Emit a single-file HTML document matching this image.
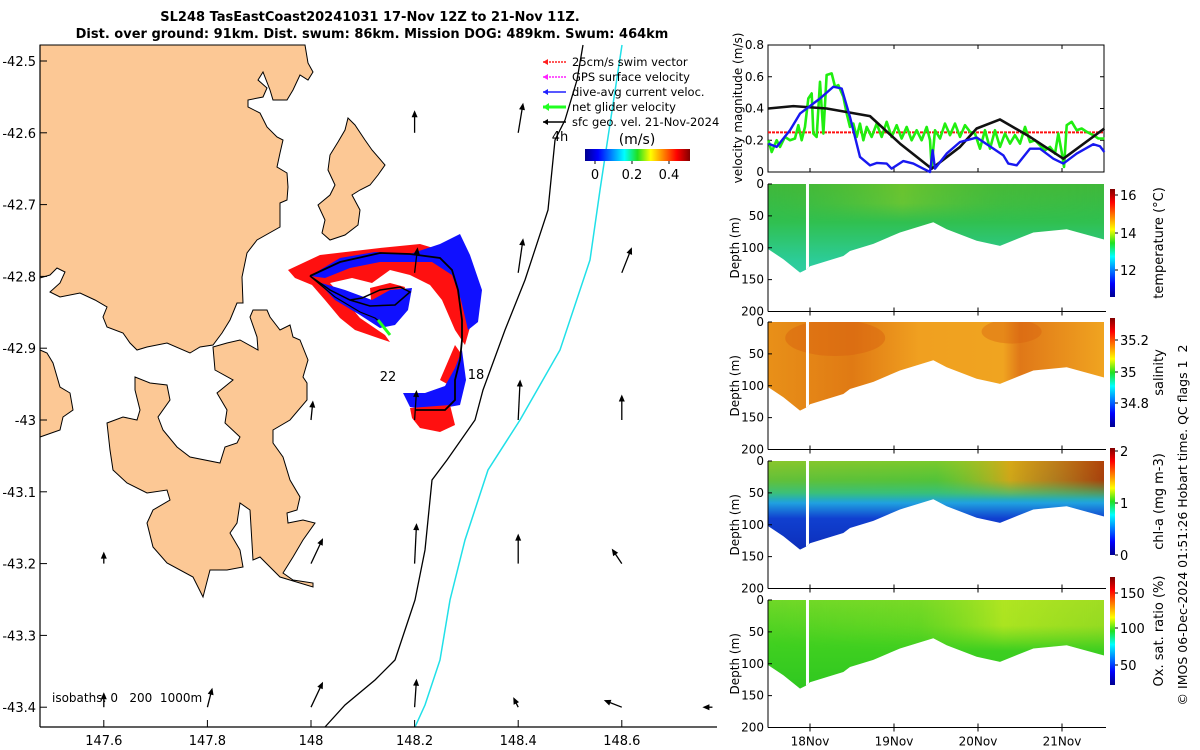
<!DOCTYPE html>
<html><head><meta charset="utf-8"><style>
html,body{margin:0;padding:0;background:#fff;}
svg{display:block;font-family:"DejaVu Sans","Liberation Sans",sans-serif;}
</style></head><body>
<svg id="fig" width="1200" height="750" viewBox="0 0 1200 750" xmlns="http://www.w3.org/2000/svg">
<defs>
<linearGradient id="jetH" x1="0" y1="0" x2="1" y2="0">
<stop offset="0" stop-color="#00008f"/><stop offset="0.125" stop-color="#0000ff"/><stop offset="0.375" stop-color="#00ffff"/><stop offset="0.5" stop-color="#20e020"/><stop offset="0.625" stop-color="#ffff00"/><stop offset="0.875" stop-color="#ff0000"/><stop offset="1" stop-color="#800000"/></linearGradient>
<linearGradient id="jetV" x1="0" y1="1" x2="0" y2="0">
<stop offset="0" stop-color="#00008f"/><stop offset="0.125" stop-color="#0000ff"/><stop offset="0.375" stop-color="#00ffff"/><stop offset="0.5" stop-color="#20e020"/><stop offset="0.625" stop-color="#ffff00"/><stop offset="0.875" stop-color="#ff0000"/><stop offset="1" stop-color="#800000"/></linearGradient>
<linearGradient id="gTemp" x1="0" y1="0" x2="0" y2="1"><stop offset="0" stop-color="#40b83a"/><stop offset="0.3" stop-color="#30c050"/><stop offset="0.6" stop-color="#2ccc98"/><stop offset="1" stop-color="#38d4c4"/></linearGradient>
<linearGradient id="gTempH" x1="0" y1="0" x2="1" y2="0"><stop offset="0" stop-color="#50c030" stop-opacity="0"/><stop offset="0.4" stop-color="#a0d020" stop-opacity="0.45"/><stop offset="0.7" stop-color="#60c030" stop-opacity="0.2"/><stop offset="1" stop-color="#60c030" stop-opacity="0"/></linearGradient>
<linearGradient id="gSal" x1="0" y1="0" x2="1" y2="0"><stop offset="0" stop-color="#e89018"/><stop offset="0.25" stop-color="#e07a14"/><stop offset="0.45" stop-color="#f0a020"/><stop offset="0.7" stop-color="#f0a420"/><stop offset="0.75" stop-color="#e07818"/><stop offset="1" stop-color="#f0a420"/></linearGradient>
<linearGradient id="gChl" x1="0" y1="0" x2="0" y2="1"><stop offset="0" stop-color="#70c830"/><stop offset="0.15" stop-color="#40c040"/><stop offset="0.25" stop-color="#30c080"/><stop offset="0.33" stop-color="#20a0e0"/><stop offset="0.45" stop-color="#1040d0"/><stop offset="1" stop-color="#0818a0"/></linearGradient>
<linearGradient id="gChlH" x1="0" y1="0" x2="1" y2="0"><stop offset="0" stop-color="#f0c020" stop-opacity="0.2"/><stop offset="0.5" stop-color="#a0d020" stop-opacity="0.2"/><stop offset="0.72" stop-color="#f0a010" stop-opacity="0.8"/><stop offset="0.85" stop-color="#e06010" stop-opacity="0.7"/><stop offset="1" stop-color="#c02000" stop-opacity="0.8"/></linearGradient>
<linearGradient id="gOx" x1="0" y1="0" x2="0" y2="1"><stop offset="0" stop-color="#70d828"/><stop offset="0.35" stop-color="#40d020"/><stop offset="1" stop-color="#20c020"/></linearGradient>
<linearGradient id="gOxH" x1="0" y1="0" x2="1" y2="0"><stop offset="0" stop-color="#a0e020" stop-opacity="0"/><stop offset="0.45" stop-color="#a0e020" stop-opacity="0.2"/><stop offset="0.7" stop-color="#c0e820" stop-opacity="0.8"/><stop offset="1" stop-color="#c0e020" stop-opacity="0.6"/></linearGradient>
<linearGradient id="fadeV" x1="0" y1="0" x2="0" y2="1"><stop offset="0" stop-color="#fff"/><stop offset="0.5" stop-color="#fff"/><stop offset="1" stop-color="#000"/></linearGradient>
</defs>

<text x="370" y="21" text-anchor="middle" font-size="13" font-weight="bold">SL248 TasEastCoast20241031 17-Nov 12Z to 21-Nov 11Z.</text>
<text x="372" y="38" text-anchor="middle" font-size="13" font-weight="bold">Dist. over ground: 91km. Dist. swum: 86km. Mission DOG: 489km. Swum: 464km</text>

<g id="map">
<path fill="#fcc895" stroke="#000" stroke-width="1" d="M40,45 L305,45 308,63 313,72 308,80 300,75 293,90 287,100 273,100 270,90 263,72 258,80 267,88 263,97 248,100 248,107 260,113 267,127 277,137 283,140 280,153 277,167 287,173 288,187 287,200 280,203 280,227 257,240 247,253 242,277 243,303 237,303 230,320 222,333 213,345 200,347 190,353 167,343 147,347 137,350 130,343 123,333 107,327 103,317 107,307 95,300 80,293 60,297 50,292 60,283 65,272 57,268 50,275 40,278 Z"/>
<path fill="#fcc895" stroke="#000" d="M40,350 47,353 53,363 60,387 70,393 73,410 63,417 60,430 40,437 Z"/>
<path fill="#fcc895" stroke="#000" d="M135,377 150,383 167,385 170,400 158,417 163,430 177,447 190,457 220,463 225,447 237,443 240,437 225,423 227,410 217,393 233,380 215,370 213,347 227,343 240,340 258,350 257,337 250,317 253,310 267,310 270,317 280,330 290,325 293,337 300,340 308,360 303,377 307,383 307,400 290,420 273,430 273,443 283,457 290,480 300,497 297,510 287,513 288,523 303,520 315,523 303,540 293,557 283,573 293,580 313,583 313,587 280,577 260,557 253,560 250,510 240,503 237,523 230,533 240,550 243,567 227,570 210,570 203,597 193,577 167,563 153,547 147,523 153,510 170,500 167,490 147,493 127,483 113,470 110,450 107,423 123,417 137,420 140,410 135,390 Z"/>
<path fill="#fcc895" stroke="#000" d="M348,118 355,125 365,140 372,150 385,165 378,175 370,185 360,190 352,195 360,210 358,225 345,235 330,240 322,233 325,220 318,205 330,195 335,185 328,170 330,155 338,142 345,130 Z"/>

<polyline fill="none" stroke="#000" stroke-width="1.3" points="583,45 577,80 565,120 555,140 548,210 525,280 505,330 483,390 475,420 447,460 432,480 425,550 415,600 405,630 395,660 375,680 345,705 325,727"/>
<polyline fill="none" stroke="#20e0e8" stroke-width="1.5" points="622,45 600,190 590,260 560,350 520,420 488,470 465,540 450,600 440,660 425,705 415,727"/>

<g>
<path fill="#ff1010" d="M288,270 320,255 380,248 420,244 440,250 455,262 467,290 472,320 465,345 455,330 442,300 430,285 410,275 390,270 372,283 352,278 330,283 345,300 360,318 385,335 390,342 378,338 355,330 340,318 325,300 312,285 295,278 Z"/>
<path fill="#ff1010" d="M370,288 390,283 405,287 400,305 385,315 372,312 Z"/>
<path fill="#1010ff" d="M310,276 340,258 375,252 410,254 440,244 460,234 470,255 482,290 478,322 468,330 461,300 452,275 432,262 410,262 380,262 350,268 325,278 Z"/>
<path fill="#1010ff" d="M318,282 345,290 372,300 390,290 412,288 408,310 395,325 380,328 360,315 335,300 Z"/>
<path fill="#ff1010" d="M440,380 455,345 462,355 458,390 Z"/>
<path fill="#1010ff" d="M403,393 425,393 445,386 455,368 462,350 466,380 460,405 432,410 410,407 Z"/>
<path fill="#ff1010" d="M410,408 450,405 455,425 440,432 420,428 412,418 Z"/>
<polyline fill="none" stroke="#000" stroke-width="1.8" points="310,276 340,262 380,253 410,254 440,258 452,270 458,290 462,320 462,340 460,360 455,380 455,400 445,410 415,410"/>
<polyline fill="none" stroke="#000" stroke-width="1.5" points="310,276 330,290 350,300 370,306 395,305 410,292 400,287 380,290 362,298 350,300"/>
<polyline fill="none" stroke="#000" stroke-width="1.2" points="310,276 335,297 360,312 375,318 380,322"/>
<line x1="378" y1="320" x2="390" y2="335" stroke="#20ff20" stroke-width="3"/>
</g>
<g id="arrows"></g>
<text x="388" y="381" text-anchor="middle" font-size="13">22</text>
<text x="476" y="379" text-anchor="middle" font-size="13">18</text>
<text x="560" y="141" text-anchor="middle" font-size="13">4h</text>
<text x="52" y="702" font-size="12">isobaths: 0&#160;&#160;&#160;200&#160;&#160;1000m</text>

<g font-size="11.5">
<line x1="543" y1="62" x2="566" y2="62" stroke="#ff2020" stroke-dasharray="2,1" stroke-width="1.5"/><path d="M543,62 l5,-3 v6z" fill="#ff2020"/><text x="572" y="66">25cm/s swim vector</text>
<line x1="543" y1="77" x2="566" y2="77" stroke="#ff20ff" stroke-dasharray="2,1" stroke-width="1.5"/><path d="M543,77 l5,-3 v6z" fill="#ff20ff"/><text x="572" y="81">GPS surface velocity</text>
<line x1="543" y1="92" x2="566" y2="92" stroke="#2020ff" stroke-width="1.5"/><path d="M543,92 l5,-3 v6z" fill="#2020ff"/><text x="572" y="96">dive-avg current veloc.</text>
<line x1="543" y1="107" x2="566" y2="107" stroke="#20ff20" stroke-width="3"/><path d="M543,107 l6,-4 v8z" fill="#20ff20"/><text x="572" y="111">net glider velocity</text>
<line x1="543" y1="122" x2="566" y2="122" stroke="#000" stroke-width="1.5"/><path d="M543,122 l5,-3 v6z" fill="#000"/><text x="572" y="126">sfc geo. vel. 21-Nov-2024</text>
</g>
<text x="637" y="144" text-anchor="middle" font-size="14">(m/s)</text>
<rect x="585" y="149" width="105" height="12" fill="url(#jetH)"/>
<g font-size="13" text-anchor="middle">
<line x1="595" y1="161" x2="595" y2="164" stroke="#000"/><text x="595" y="179">0</text>
<line x1="632" y1="161" x2="632" y2="164" stroke="#000"/><text x="632" y="179">0.2</text>
<line x1="669" y1="161" x2="669" y2="164" stroke="#000"/><text x="669" y="179">0.4</text>
</g>
<g id="mapaxes"></g>
</g>

<g id="right"></g>

<text transform="translate(1187,525) rotate(-90)" text-anchor="middle" font-size="12.5">© IMOS 06-Dec-2024 01:51:26 Hobart time. QC flags 1&#160;&#160;2</text>
</svg>
<script>
// ---- map arrow data (surface geostrophic velocity) ----
const arrowLon=[148.2,148.4,148.2,148.4,148.6,148.0,148.2,148.4,148.6,147.6,148.0,148.2,148.4,148.6,147.6,147.8,148.0,148.2,148.4,148.6,148.775];
const arrowLat=[-42.6,-42.6,-42.795,-42.795,-42.795,-43.0,-43.0,-43.0,-43.0,-43.2,-43.2,-43.2,-43.2,-43.2,-43.4,-43.4,-43.4,-43.4,-43.4,-43.4,-43.4];
const arrowU=[0,0.033,0.02,0.033,0.067,0.013,0.013,0.013,0,0,0.08,0.013,0,-0.067,0,0.033,0.08,0.013,-0.033,-0.12,-0.067];
const arrowV=[0.15,0.2,0.17,0.23,0.17,0.13,0.2,0.27,0.17,0.08,0.17,0.27,0.2,0.1,0.1,0.13,0.17,0.19,0.067,0.047,0];
const lonTicks=[147.6,147.8,148,148.2,148.4,148.6];
const latTicks=[-42.5,-42.6,-42.7,-42.8,-42.9,-43,-43.1,-43.2,-43.3,-43.4];
// ---- velocity time series (days since 18-Nov 00:00) ----
const blueT=[-0.496,-0.397,-0.238,-0.119,0.119,0.278,0.377,0.476,0.595,0.714,0.794,0.913,0.972,1.111,1.23,1.349,1.429,1.46,1.488,1.627,1.786,1.984,2.183,2.302,2.361,2.46,2.619,2.738,2.897,3.016,3.175,3.373,3.452,3.504];
const blueV=[0.179,0.158,0.263,0.368,0.463,0.537,0.526,0.347,0.095,0.042,0.057,0.053,0.021,0.069,0.053,0.021,0.0,0.137,0.021,0.116,0.189,0.217,0.147,0.105,0.053,0.042,0.147,0.147,0.084,0.053,0.116,0.175,0.162,0.126];
const blackT=[-0.496,-0.198,0.198,0.714,1.071,1.448,1.786,1.984,2.262,2.619,3.016,3.504];
const blackV=[0.40,0.415,0.40,0.352,0.179,0.021,0.158,0.274,0.331,0.221,0.084,0.274];
const greenT=[-0.496,-0.456,-0.397,-0.357,-0.298,-0.238,-0.179,-0.139,-0.099,-0.06,-0.02,0.02,0.04,0.079,0.119,0.159,0.198,0.258,0.298,0.337,0.397,0.437,0.476,0.516,0.556,0.595,0.635,0.675,0.734,0.794,0.853,0.913,0.972,1.032,1.091,1.151,1.21,1.27,1.329,1.389,1.429,1.448,1.488,1.548,1.607,1.667,1.726,1.786,1.845,1.905,1.964,2.024,2.083,2.143,2.202,2.262,2.321,2.381,2.44,2.5,2.56,2.619,2.679,2.738,2.798,2.857,2.917,2.956,2.996,3.024,3.056,3.115,3.175,3.234,3.294,3.373,3.433,3.504];
const greenV=[0.2,0.126,0.2,0.158,0.221,0.2,0.211,0.295,0.2,0.284,0.463,0.495,0.242,0.221,0.568,0.242,0.611,0.621,0.537,0.547,0.474,0.368,0.284,0.305,0.221,0.305,0.2,0.284,0.221,0.305,0.221,0.316,0.221,0.295,0.211,0.284,0.2,0.263,0.2,0.284,0.2,0.032,0.263,0.211,0.305,0.232,0.305,0.221,0.295,0.253,0.242,0.147,0.263,0.147,0.263,0.158,0.242,0.179,0.232,0.179,0.284,0.189,0.2,0.168,0.137,0.158,0.116,0.242,0.126,0.032,0.295,0.316,0.263,0.274,0.253,0.232,0.211,0.211];
const swimSpeed=0.25;
// ---- section bottom depth ----
const bottomT=[-0.5,-0.317,-0.119,-0.04,0,0.198,0.397,0.476,0.754,1.071,1.468,1.627,1.984,2.262,2.659,3.056,3.5];
const bottomD=[102,118,139,134,129,121,113,105,94,76,60,71,89,97,76,71,87];
const dayTicks=[0,1,2,3];
const dayLabels=["18Nov","19Nov","20Nov","21Nov"];
const velTicks=[0,0.2,0.4,0.6,0.8];
const depthTicks=[0,50,100,150,200];

const NS="http://www.w3.org/2000/svg";
function mk(tag,attrs,parent){const e=document.createElementNS(NS,tag);for(const k in attrs)e.setAttribute(k,attrs[k]);parent.appendChild(e);return e;}
const lx=lon=>311+(lon-148)*518;
const ly=lat=>420-(lat+43)*718;

const ag=document.getElementById('arrows');
for(let i=0;i<arrowLon.length;i++){
  const x0=lx(arrowLon[i]),y0=ly(arrowLat[i]);
  const dx=arrowU[i]*150,dy=-arrowV[i]*150;
  const L=Math.hypot(dx,dy)||1;const ux=dx/L,uy=dy/L;
  const x1=x0+dx,y1=y0+dy;
  const g=mk('g',{},ag);
  
  
  mk('line',{x1:x0,y1:y0,x2:x1-ux*2,y2:y1-uy*2,stroke:'#000','stroke-width':1.3},g);
  const hx=x1-ux*7,hy=y1-uy*7;
  mk('path',{d:`M${x1},${y1} L${hx-uy*3},${hy+ux*3} L${hx+uy*3},${hy-ux*3} Z`,fill:'#000'},g);
}
const ma=document.getElementById('mapaxes');
mk('line',{x1:40,y1:45,x2:40,y2:727,stroke:'#000','stroke-width':1.2},ma);
mk('line',{x1:40,y1:727,x2:717,y2:727,stroke:'#000','stroke-width':1.2},ma);
lonTicks.forEach(v=>{const x=lx(v);mk('line',{x1:x,y1:727,x2:x,y2:720,stroke:'#000'},ma);
  const t=mk('text',{x:x,y:745,'text-anchor':'middle','font-size':13},ma);t.textContent=String(v);
  
  });
latTicks.forEach(v=>{const y=ly(v);mk('line',{x1:40,y1:y,x2:47,y2:y,stroke:'#000'},ma);
  const t=mk('text',{x:36,y:y+5,'text-anchor':'end','font-size':13},ma);t.textContent=String(v);
  
  });

const R=document.getElementById('right');
const X0=768,X1=1104;
const tx=t=>X0+(t+0.5)*(X1-X0)/4;
function xAxisTicks(g,yb,ytop,labels){
  dayTicks.forEach((d,i)=>{const x=tx(d);mk('line',{x1:x,y1:yb,x2:x,y2:yb-4,stroke:'#000'},g);mk('line',{x1:x,y1:ytop,x2:x,y2:ytop+4,stroke:'#000'},g);
    if(labels){const t=mk('text',{x:x,y:yb+18,'text-anchor':'middle','font-size':12},g);t.textContent=dayLabels[i];
      
      }});
}
const vg=mk('g',{},R);


const VY0=172,VY1=45;
const vy=v=>VY0-(v/0.8)*(VY0-VY1);
mk('rect',{x:X0,y:VY1,width:X1-X0,height:VY0-VY1,fill:'#fff',stroke:'#000','stroke-width':1},vg);
velTicks.forEach(v=>{const y=vy(v);mk('line',{x1:X0,y1:y,x2:X0+4,y2:y,stroke:'#000'},vg);mk('line',{x1:X1,y1:y,x2:X1-4,y2:y,stroke:'#000'},vg);
  const t=mk('text',{x:X0-4,y:y+4,'text-anchor':'end','font-size':12},vg);t.textContent=String(v);
  
  });
xAxisTicks(vg,VY0,VY1,false);
const sw=mk('line',{x1:X0,y1:vy(swimSpeed),x2:X1,y2:vy(swimSpeed),stroke:'#ff1010','stroke-width':2,'stroke-dasharray':'3,1'},vg);


function series(T,V,color,w,name){const p=mk('polyline',{points:T.map((t,i)=>tx(t)+','+vy(V[i])).join(' '),fill:'none',stroke:color,'stroke-width':w,'stroke-linejoin':'round'},vg);
  
  }
series(greenT,greenV,'#20ee10',2.6,'net-glider-velocity-line');
series(blackT,blackV,'#111',2.6,'surface-geo-velocity-line');
series(blueT,blueV,'#1818f0',2.4,'dive-avg-current-line');
const vl=mk('text',{transform:'translate(742,108) rotate(-90)','text-anchor':'middle','font-size':12},vg);vl.textContent='velocity magnitude (m/s)';



const panels=[
 {top:184,fill:'url(#gTemp)',over:'url(#gTempH)',overD:60,name:'temperature',label:'temperature (°C)',ticks:[[16,195],[14,233],[12,270]],cb:[189,297]},
 {top:322,fill:'url(#gSal)',over:null,name:'salinity',label:'salinity',ticks:[[35.2,340],[35,372],[34.8,403]],cb:[318,427]},
 {top:461,fill:'url(#gChl)',over:'url(#gChlH)',overD:60,name:'chlorophyll',label:'chl-a (mg m-3)',ticks:[[2,451],[1,503],[0,555]],cb:[448,555]},
 {top:600,fill:'url(#gOx)',over:'url(#gOxH)',overD:80,name:'oxygen',label:'Ox. sat. ratio (%)',ticks:[[150,593],[100,628],[50,665]],cb:[577,685]}
];
const PH=127.5;
const defs=document.querySelector('defs');
panels.forEach((p,pi)=>{
  const g=mk('g',{},R);
  
  
  const dy=d=>p.top+d/200*PH;
  const cid='clip'+pi;
  const cp=mk('clipPath',{id:cid},g);
  let d=`M${tx(bottomT[0])},${dy(0)} L${tx(bottomT[bottomT.length-1])},${dy(0)} `;
  for(let i=bottomT.length-1;i>=0;i--)d+=`L${tx(bottomT[i])},${dy(bottomD[i])} `;
  d+='Z';
  mk('path',{d:d},cp);
  const body=mk('g',{'clip-path':`url(#${cid})`},g);
  mk('rect',{x:X0,y:p.top,width:X1-X0,height:PH,fill:p.fill},body);
  if(p.over){
    const mid='mask'+pi;
    const m=mk('mask',{id:mid},defs);
    mk('rect',{x:X0,y:p.top,width:X1-X0,height:p.overD/200*PH,fill:'url(#fadeV)'},m);
    mk('rect',{x:X0,y:p.top,width:X1-X0,height:p.overD/200*PH,fill:p.over,mask:`url(#${mid})`},body);
  }
  if(pi===1){mk('ellipse',{cx:tx(0.3),cy:dy(25),rx:50,ry:18,fill:'#d86010',opacity:0.45},body);
    mk('ellipse',{cx:tx(2.4),cy:dy(15),rx:30,ry:12,fill:'#d86010',opacity:0.4},body);}
  mk('rect',{x:tx(-0.03)-1.5,y:p.top,width:3,height:PH,fill:'#fff'},body);
  mk('line',{x1:X0,y1:p.top,x2:X0,y2:p.top+PH,stroke:'#000'},g);
  mk('line',{x1:X0,y1:p.top+PH,x2:X1+2,y2:p.top+PH,stroke:'#000'},g);
  depthTicks.forEach(v=>{const y=dy(v);mk('line',{x1:X0,y1:y,x2:X0+4,y2:y,stroke:'#000'},g);
    const t=mk('text',{x:X0-4,y:y+4,'text-anchor':'end','font-size':12},g);t.textContent=String(v);
    
    });
  xAxisTicks(g,p.top+PH,p.top+PH,pi===3);
  const yl=mk('text',{transform:`translate(739,${p.top+PH/2}) rotate(-90)`,'text-anchor':'middle','font-size':12},g);yl.textContent='Depth (m)';
  
  
  const cb=mk('rect',{x:1110,y:p.cb[0],width:5,height:p.cb[1]-p.cb[0],fill:'url(#jetV)'},g);
  
  
  p.ticks.forEach(tk=>{mk('line',{x1:1115,y1:tk[1],x2:1118,y2:tk[1],stroke:'#000'},g);
    const t=mk('text',{x:1120,y:tk[1]+5,'font-size':13},g);t.textContent=String(tk[0]);
    
    });
  const lab=mk('text',{transform:`translate(1163,${(p.cb[0]+p.cb[1])/2}) rotate(-90)`,'text-anchor':'middle','font-size':13},g);lab.textContent=p.label;
  
  
});
</script>
</body></html>
